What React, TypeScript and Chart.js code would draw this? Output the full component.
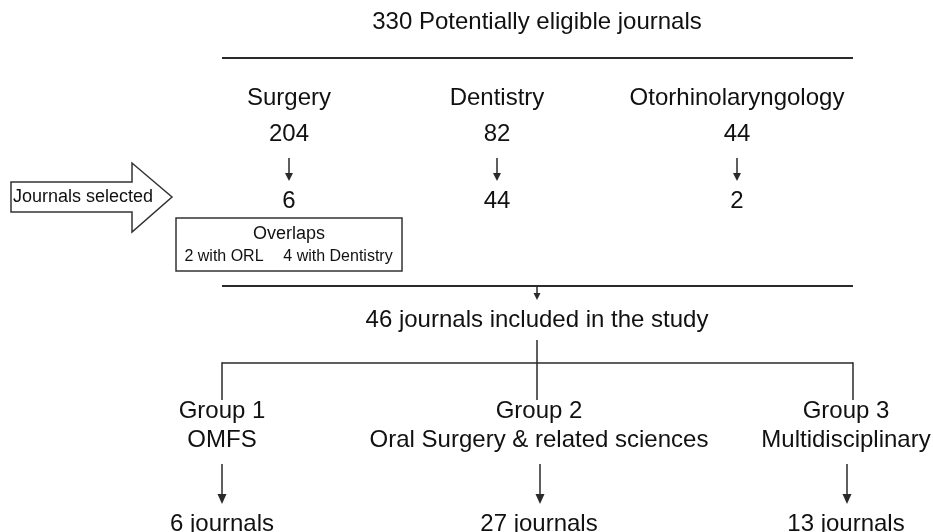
import React, { useEffect, useRef } from "react";
import { Chart, registerables } from "chart.js";

Chart.register(...registerables);

// ---- data ----
const totalEligible = 330;
const sourceCategories = ["Surgery", "Dentistry", "Otorhinolaryngology"];
const potentialCounts = [204, 82, 44];
const selectedCounts = [6, 44, 2];
const overlapLabels = ["with ORL", "with Dentistry"];
const overlapCounts = [2, 4];
const includedTotal = 46;
const groupNames = ["Group 1", "Group 2", "Group 3"];
const groupDescriptions = ["OMFS", "Oral Surgery & related sciences", "Multidisciplinary"];
const groupJournals = [6, 27, 13];

// ---- layout (in scale units, 0..933 x 0..532) ----
const W = 933;
const H = 532;
const topCols = [289, 497, 737];
const bottomCols = [222, 539, 846];
const lineLeft = 222;
const lineRight = 853;
const centerX = 537;

const FONT = '"Liberation Sans", Arial, Helvetica, sans-serif';
const TEXT = "#111";
const LINE = "#2a2a2a";

const flowPlugin = {
  id: "flow",
  afterDraw(chart: any) {
    const ctx = chart.ctx as CanvasRenderingContext2D;
    const xs = chart.scales.x;
    const ys = chart.scales.y;
    const X = (v: number) => xs.getPixelForValue(v);
    const Y = (v: number) => ys.getPixelForValue(v);

    const txt = (s: string, x: number, y: number, size: number, align: CanvasTextAlign = "center", base: CanvasTextBaseline = "middle") => {
      ctx.save();
      ctx.font = `${size}px ${FONT}`;
      ctx.fillStyle = TEXT;
      ctx.textAlign = align;
      ctx.textBaseline = base;
      ctx.fillText(s, X(x), Y(y));
      ctx.restore();
    };
    const line = (x1: number, y1: number, x2: number, y2: number, w = 2) => {
      ctx.save();
      ctx.strokeStyle = LINE;
      ctx.lineWidth = w;
      ctx.beginPath();
      ctx.moveTo(X(x1), Y(y1));
      ctx.lineTo(X(x2), Y(y2));
      ctx.stroke();
      ctx.restore();
    };
    const arrow = (x: number, y1: number, y2: number, head = 9, hw = 4.5) => {
      line(x, y1, x, y2 - head, 1.5);
      ctx.save();
      ctx.fillStyle = LINE;
      ctx.beginPath();
      ctx.moveTo(X(x) - hw, Y(y2 - head));
      ctx.lineTo(X(x) + hw, Y(y2 - head));
      ctx.lineTo(X(x), Y(y2));
      ctx.closePath();
      ctx.fill();
      ctx.restore();
    };

    // Title
    txt(`${totalEligible} Potentially eligible journals`, centerX, 22, 24);
    line(lineLeft, 58, lineRight, 58);

    // categories
    sourceCategories.forEach((c, i) => {
      txt(c, topCols[i], 98, 24);
      txt(String(potentialCounts[i]), topCols[i], 134, 24);
      arrow(topCols[i], 158, 181, 8, 4);
      txt(String(selectedCounts[i]), topCols[i], 201, 24);
    });

    // block arrow "Journals selected"
    ctx.save();
    ctx.strokeStyle = "#333";
    ctx.fillStyle = "#fff";
    ctx.lineWidth = 1.5;
    ctx.beginPath();
    ctx.moveTo(X(11), Y(182));
    ctx.lineTo(X(132), Y(182));
    ctx.lineTo(X(132), Y(163));
    ctx.lineTo(X(172), Y(197));
    ctx.lineTo(X(132), Y(232));
    ctx.lineTo(X(132), Y(212));
    ctx.lineTo(X(11), Y(212));
    ctx.closePath();
    ctx.fill();
    ctx.stroke();
    ctx.restore();
    txt("Journals selected", 13, 197, 18, "left");

    // overlaps box
    ctx.save();
    ctx.strokeStyle = "#333";
    ctx.lineWidth = 1.5;
    ctx.strokeRect(X(176), Y(218), X(402) - X(176), Y(271) - Y(218));
    ctx.restore();
    txt("Overlaps", 289, 234, 18);
    txt(`${overlapCounts[0]} ${overlapLabels[0]}`, 224, 257, 16);
    txt(`${overlapCounts[1]} ${overlapLabels[1]}`, 338, 257, 16);

    // second line
    line(lineLeft, 286, lineRight, 286);
    arrow(centerX, 287, 300, 7, 3.5);
    txt(`${includedTotal} journals included in the study`, centerX, 320, 24);

    // tree
    line(centerX, 340, centerX, 400, 1.5);
    line(lineLeft, 363, lineRight, 363, 1.5);
    line(lineLeft, 362.3, lineLeft, 400, 1.5);
    line(lineRight, 362.3, lineRight, 400, 1.5);

    groupNames.forEach((g, i) => {
      txt(g, bottomCols[i], 411, 24);
      txt(groupDescriptions[i], bottomCols[i], 440, 24);
      arrow(bottomCols[i] + (i === 0 ? 0 : 1), 464, 504, 10, 4.5);
      txt(`${groupJournals[i]} journals`, bottomCols[i], 531, 24, "center", "alphabetic");
    });
  },
};

export default function App() {
  const ref = useRef<HTMLCanvasElement | null>(null);
  useEffect(() => {
    if (!ref.current) return;
    const chart = new Chart(ref.current, {
      type: "scatter",
      data: {
        datasets: [
          {
            data: sourceCategories.map((_, i) => ({ x: topCols[i], y: 98 })),
            pointRadius: 0,
          },
        ],
      },
      options: {
        animation: false,
        responsive: false,
        maintainAspectRatio: false,
        layout: { padding: 0 },
        plugins: { legend: { display: false }, tooltip: { enabled: false } },
        events: [],
        scales: {
          x: { type: "linear", min: 0, max: W, display: false },
          y: { type: "linear", min: 0, max: H, reverse: true, display: false },
        },
      },
      plugins: [flowPlugin],
    });
    return () => chart.destroy();
  }, []);
  return (
    <div style={{ position: "fixed", left: 0, top: 0, width: W, height: H, background: "#fff" }}>
      <canvas ref={ref} width={W} height={H} style={{ width: W, height: H, display: "block" }} />
    </div>
  );
}
